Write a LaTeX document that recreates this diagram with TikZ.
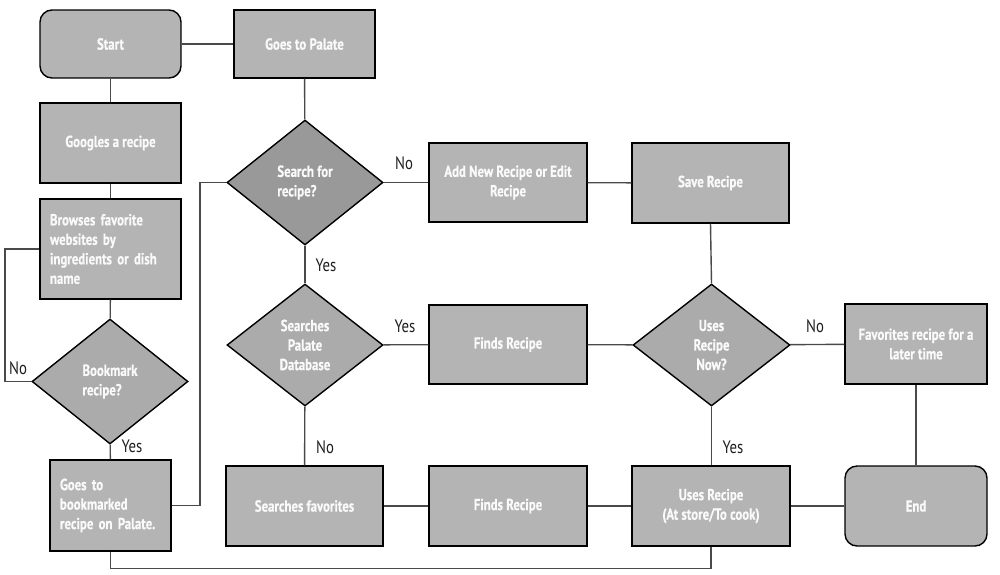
\documentclass[tikz,border=0pt]{standalone}
\usepackage{fontspec}
\setmainfont{PT Sans}[FakeStretch=0.8, BoldFeatures={FakeBold=0.5}]
\newfontfamily\lblfont{PT Sans}[FakeStretch=0.82]
\usetikzlibrary{shapes.geometric}

\definecolor{boxgray}{HTML}{B4B4B4}
\definecolor{diagray}{HTML}{ABABAB}
\definecolor{darkdia}{HTML}{999999}
\definecolor{wire}{HTML}{4A4A4A}
\definecolor{txt}{HTML}{FAFAFA}

\tikzset{
  x=1pt, y=-1pt,
  base/.style={draw=black, line width=1.4pt, fill=boxgray, text=txt,
    font=\fontsize{16}{19.5}\selectfont\bfseries, inner sep=0pt},
  stepbox/.style={base, rectangle, minimum width=#1},
  roundbox/.style={base, rectangle, rounded corners=12pt, minimum width=#1},
  decision/.style={base, diamond, fill=diagray, aspect=1.25},
  conn/.style={draw=wire, line width=1.4pt},
  lbl/.style={font=\lblfont\fontsize{18}{20}\selectfont, text=black!88, inner sep=0pt},
}

\begin{document}
\begin{tikzpicture}
\useasboundingbox (0,0) rectangle (1000,574);

% left column
\node[roundbox=141pt, minimum height=68pt] (start) at (110.5,44) {Start};
\node[stepbox=141pt, minimum height=80pt] (google) at (110.5,143) {Googles a recipe};
\node[stepbox=141pt, minimum height=100pt, text width=121pt, align=left] (browse) at (110.5,249)
  {Browses favorite\\websites by\\ingredients or dish\\name};
\node[decision, minimum width=156pt, minimum height=125pt, align=left] (bookmark) at (110,381.5)
  {Bookmark\\recipe?};
\node[stepbox=121pt, minimum height=91pt, text width=101pt, align=left] (gobm) at (110.5,505.5)
  {Goes to\\bookmarked\\recipe on Palate.};

% second column
\node[stepbox=141pt, minimum height=68pt] (palate) at (304.5,44) {Goes to Palate};
\node[decision, fill=darkdia, minimum width=156pt, minimum height=125pt, align=left] (search) at (305,182.5)
  {Search for\\recipe?};
\node[decision, minimum width=156pt, minimum height=122pt, align=center] (spd) at (305,345)
  {Searches\\Palate\\Database};
\node[stepbox=157pt, minimum height=80pt] (sfav) at (304.5,506) {Searches favorites};

% third column
\node[stepbox=158pt, minimum height=79pt, align=center] (addnew) at (508,182.5)
  {Add New Recipe or Edit\\Recipe};
\node[stepbox=158pt, minimum height=79pt] (find1) at (508,344.5) {Finds Recipe};
\node[stepbox=158pt, minimum height=80pt] (find2) at (508,506) {Finds Recipe};

% fourth column
\node[stepbox=157pt, minimum height=80pt] (save) at (710.5,183) {Save Recipe};
\node[decision, minimum width=157pt, minimum height=122pt, align=center] (usenow) at (711.5,345)
  {Uses\\Recipe\\Now?};
\node[stepbox=158pt, minimum height=80pt, align=center] (uses) at (711,506)
  {Uses Recipe\\(At store/To cook)};

% right column
\node[stepbox=142pt, minimum height=80pt, align=center] (favlater) at (916,344)
  {Favorites recipe for a\\later time};
\node[roundbox=142pt, minimum height=80pt] (end) at (916,506) {End};

% routing points
\coordinate (leftrail) at (5,0);
\coordinate (midrail) at (200,0);
\coordinate (bottomrail) at (0,568.5);

% connectors
\draw[conn] (start) -- (palate);
\draw[conn] (start) -- (google);
\draw[conn] (google) -- (browse);
\draw[conn] (browse) -- (bookmark);
\draw[conn] (browse.west) -- (browse.west -| leftrail) |- (bookmark.west);
\draw[conn] (bookmark) -- (gobm);
\draw[conn] (gobm.east) -- (gobm.east -| midrail) |- (search.west);
\draw[conn] (palate) -- (search);
\draw[conn] (search) -- (addnew);
\draw[conn] (search) -- (spd);
\draw[conn] (spd) -- (find1);
\draw[conn] (spd) -- (sfav);
\draw[conn] (addnew) -- (save);
\draw[conn] (save.south) -- (usenow.north);
\draw[conn] (find1) -- (usenow);
\draw[conn] (usenow) -- (favlater);
\draw[conn] (usenow.south) -- (uses.north -| usenow.south);
\draw[conn] (favlater) -- (end);
\draw[conn] (sfav) -- (find2);
\draw[conn] (find2) -- (uses);
\draw[conn] (uses) -- (end);
\draw[conn] (gobm.south) -- (gobm.south |- bottomrail) -| (uses.south);

% branch labels
\node[lbl] (l1) at (18,368) {No};
\node[lbl] (l2) at (132,446) {Yes};
\node[lbl] (l3) at (404,163) {No};
\node[lbl] (l4) at (326,265) {Yes};
\node[lbl] (l5) at (405,326) {Yes};
\node[lbl] (l6) at (325,447) {No};
\node[lbl] (l7) at (815,326) {No};
\node[lbl] (l8) at (733,447) {Yes};
\end{tikzpicture}
\end{document}
